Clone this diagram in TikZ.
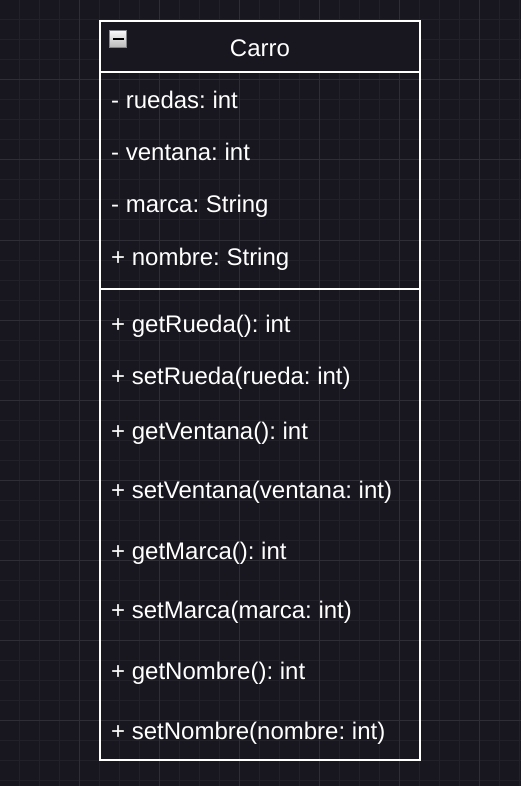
\documentclass[tikz,border=0pt]{standalone}
\usepackage{fontspec}
\setmainfont{Liberation Sans}
\frenchspacing
\definecolor{fondo}{RGB}{24,22,31}
\definecolor{rejilla}{RGB}{34,32,41}
\definecolor{rejillamayor}{RGB}{47,45,54}
\definecolor{iconoborde}{RGB}{130,132,138}

\begin{document}
\begin{tikzpicture}[x=1pt,y=-1pt]
    \tikzstyle{every node}+=[inner sep=0pt, text=white, font=\fontsize{24}{28}\selectfont]
    \tikzstyle{miembro}=[anchor=base west]
    \tikzstyle{borde}=[white, line width=2pt]
    % fondo y rejilla
    \fill [fondo] (0,0) rectangle (521,786);
    \useasboundingbox (0,0) rectangle (521,786);
    \foreach \x in {19,39,...,519} \draw [rejilla, line width=1pt] (\x,0) -- (\x,786);
    \foreach \y in {0,20,...,780} \draw [rejilla, line width=1pt] (0,\y) -- (521,\y);
    \foreach \x in {79,159,...,479} \draw [rejillamayor, line width=1pt] (\x,0) -- (\x,786);
    \foreach \y in {0,80,...,720} \draw [rejillamayor, line width=1pt] (0,\y) -- (521,\y);
    % clase Carro
    \fill [fondo] (100,21) rectangle (420,72.5);
    \draw [borde] (100,21) rectangle (420,760);
    \draw [borde] (100,72.5) -- (420,72.5);
    \draw [borde] (100,289) -- (420,289);
    \shade [top color=white!95!gray, bottom color=gray!55, draw=iconoborde, line width=1pt] (109.5,30.5) rectangle (126.5,47.5);
    \fill [black] (112.5,37.8) rectangle (123.5,39.6);
    \node (carro) at (260,57) [anchor=base] {Carro};
    % atributos
    \node [miembro] (ruedas) at (111,109) {- ruedas: int};
    \node [miembro] (ventana) at (111,161) {- ventana: int};
    \node [miembro] (marca) at (111,213) {- marca: String};
    \node [miembro] (nombre) at (111,265) {+ nombre: String};
    % metodos
    \node [miembro] (getrueda) at (111,332) {+ getRueda(): int};
    \node [miembro] (setrueda) at (111,384) {+ setRueda(rueda: int)};
    \node [miembro] (getventana) at (111,439) {+ getVentana(): int};
    \node [miembro] (setventana) at (111,498) {+ setVentana(ventana: int)};
    \node [miembro] (getmarca) at (111,559) {+ getMarca(): int};
    \node [miembro] (setmarca) at (111,618) {+ setMarca(marca: int)};
    \node [miembro] (getnombre) at (111,679) {+ getNombre(): int};
    \node [miembro] (setnombre) at (111,739) {+ setNombre(nombre: int)};
\end{tikzpicture}
\end{document}
